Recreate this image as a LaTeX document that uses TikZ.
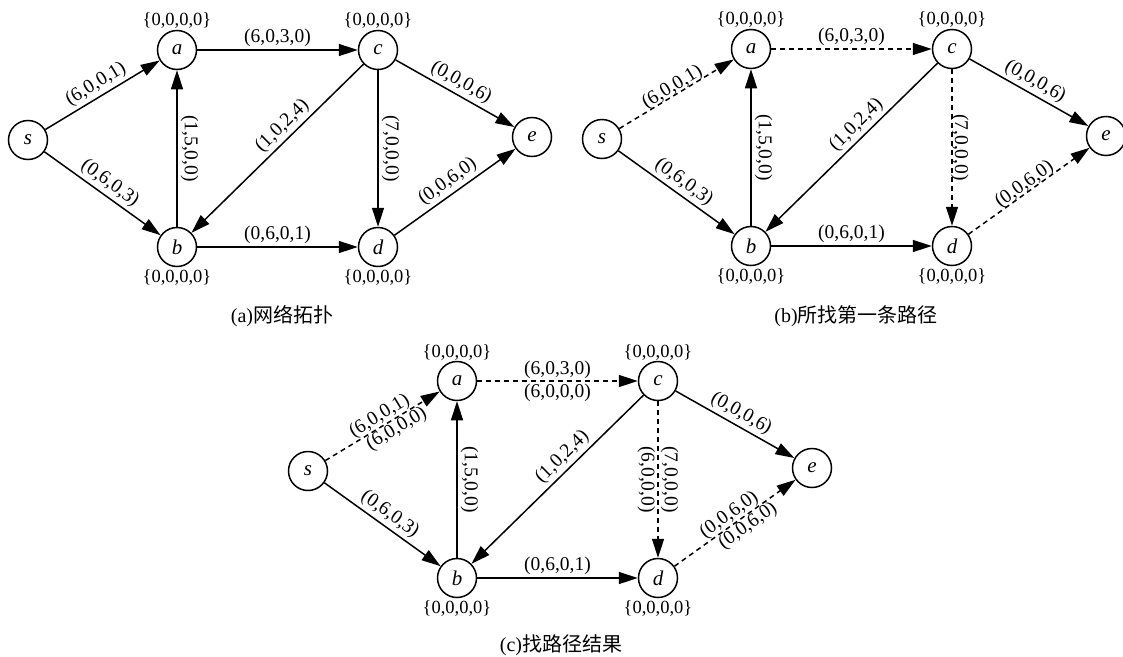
\documentclass[tikz,border=0pt]{standalone}
\usepackage{fontspec}
\setmainfont{Liberation Serif}
\newfontfamily\cjk{Noto Sans CJK SC}
\usetikzlibrary{arrows.meta,calc}
\newcommand\mkgraph[3]{%
  \node[vtx] (#1s) at (28+#2,140+#3) {s};
  \node[vtx] (#1a) at (177+#2,50+#3) {a};
  \node[vtx] (#1b) at (177+#2,247+#3) {b};
  \node[vtx] (#1c) at (378+#2,50+#3) {c};
  \node[vtx] (#1d) at (378+#2,247+#3) {d};
  \node[vtx] (#1e) at (532+#2,137+#3) {e};
  \node[setlab] (#1la) at (177+#2,21+#3) {\{0,0,0,0\}};
  \node[setlab] (#1lc) at (378+#2,21+#3) {\{0,0,0,0\}};
  \node[setlab] (#1lb) at (177+#2,277+#3) {\{0,0,0,0\}};
  \node[setlab] (#1ld) at (378+#2,277+#3) {\{0,0,0,0\}};
}
\begin{document}
\begin{tikzpicture}[x=1pt,y=-1pt,
  vtx/.style={circle,draw,line width=1.5pt,minimum size=39pt,inner sep=0pt,font=\fontsize{21}{24}\selectfont\itshape},
  edge/.style={line width=1.5pt,-{Triangle[length=19pt,width=12pt]}},
  dedge/.style={edge,dash pattern=on 5pt off 4pt},
  lab/.style={font=\fontsize{19.5}{22}\selectfont,inner sep=3pt},
  tight/.style={outer sep=-4pt},
  semi/.style={outer sep=-1pt,inner sep=2pt},
  vlab/.style={lab,rotate=-90},
  setlab/.style={font=\fontsize{18.5}{22}\selectfont,inner sep=0pt},
  captxt/.style={font=\fontsize{20}{24}\selectfont,inner sep=0pt}]
\useasboundingbox (0,0) rectangle (1123,656);

% ---------------- (a)
\mkgraph{A}{0}{0}
\draw[edge] (As) -- (Aa) node[lab,midway,sloped,above] (Al1) {(6,0,0,1)};
\draw[edge] (As) -- (Ab) node[lab,midway,sloped,above] (Al2) {(0,6,0,3)};
\draw[edge] (Ab) -- (Aa) node[vlab,midway,anchor=south] (Al3) {(1,5,0,0)};
\draw[edge] (Aa) -- (Ac) node[lab,midway,above] (Al4) {(6,0,3,0)};
\draw[edge] (Ac) -- (Ab) node[lab,pos=0.42,sloped,above] (Al5) {(1,0,2,4)};
\draw[edge] (Ac) -- (Ad) node[vlab,midway,anchor=south] (Al6) {(7,0,0,0)};
\draw[edge] (Ac) -- (Ae) node[lab,midway,sloped,above] (Al7) {(0,0,0,6)};
\draw[edge] (Ab) -- (Ad) node[lab,midway,above] (Al8) {(0,6,0,1)};
\draw[edge] (Ad) -- (Ae) node[lab,midway,sloped,above] (Al9) {(0,0,6,0)};
\node[captxt] (Acap) at (282,316) {(a){\cjk 网络拓扑}};

% ---------------- (b)
\mkgraph{B}{574}{-1}
\draw[dedge] (Bs) -- (Ba) node[lab,tight,midway,sloped,above] (Bl1) {(6,0,0,1)};
\draw[edge] (Bs) -- (Bb) node[lab,midway,sloped,above] (Bl2) {(0,6,0,3)};
\draw[edge] (Bb) -- (Ba) node[vlab,midway,anchor=south] (Bl3) {(1,5,0,0)};
\draw[dedge] (Ba) -- (Bc) node[lab,midway,above] (Bl4) {(6,0,3,0)};
\draw[edge] (Bc) -- (Bb) node[lab,pos=0.42,sloped,above] (Bl5) {(1,0,2,4)};
\draw[dedge] (Bc) -- (Bd) node[vlab,tight,midway,anchor=south] (Bl6) {(7,0,0,0)};
\draw[edge] (Bc) -- (Be) node[lab,midway,sloped,above] (Bl7) {(0,0,0,6)};
\draw[edge] (Bb) -- (Bd) node[lab,midway,above] (Bl8) {(0,6,0,1)};
\draw[dedge] (Bd) -- (Be) node[lab,tight,midway,sloped,above] (Bl9) {(0,0,6,0)};
\node[captxt] (Bcap) at (856,316) {(b){\cjk 所找第一条路径}};

% ---------------- (c)
\mkgraph{C}{280}{331}
\draw[dedge] (Cs) -- (Ca)
  node[lab,semi,pos=0.52,sloped,above] (Cl1) {(6,0,0,1)}
  node[lab,semi,pos=0.58,sloped,below] (Cl1b) {(6,0,0,0)};
\draw[edge] (Cs) -- (Cb) node[lab,midway,sloped,above] (Cl2) {(0,6,0,3)};
\draw[edge] (Cb) -- (Ca) node[vlab,midway,anchor=south] (Cl3) {(1,5,0,0)};
\draw[dedge] (Ca) -- (Cc)
  node[lab,inner sep=2pt,midway,above] (Cl4) {(6,0,3,0)}
  node[lab,inner sep=2pt,midway,below] (Cl4b) {(6,0,0,0)};
\draw[edge] (Cc) -- (Cb) node[lab,pos=0.42,sloped,above] (Cl5) {(1,0,2,4)};
\draw[dedge] (Cc) -- (Cd)
  node[vlab,inner sep=2pt,midway,anchor=south] (Cl6) {(7,0,0,0)}
  node[vlab,inner sep=2pt,midway,anchor=north] (Cl6b) {(6,0,0,0)};
\draw[edge] (Cc) -- (Ce) node[lab,midway,sloped,above] (Cl7) {(0,0,0,6)};
\draw[edge] (Cb) -- (Cd) node[lab,midway,above] (Cl8) {(0,6,0,1)};
\draw[dedge] (Cd) -- (Ce)
  node[lab,semi,pos=0.5,sloped,above] (Cl9) {(0,0,6,0)}
  node[lab,semi,pos=0.56,sloped,below] (Cl9b) {(0,0,6,0)};
\node[captxt] (Ccap) at (561,645) {(c){\cjk 找路径结果}};
\end{tikzpicture}
\end{document}
